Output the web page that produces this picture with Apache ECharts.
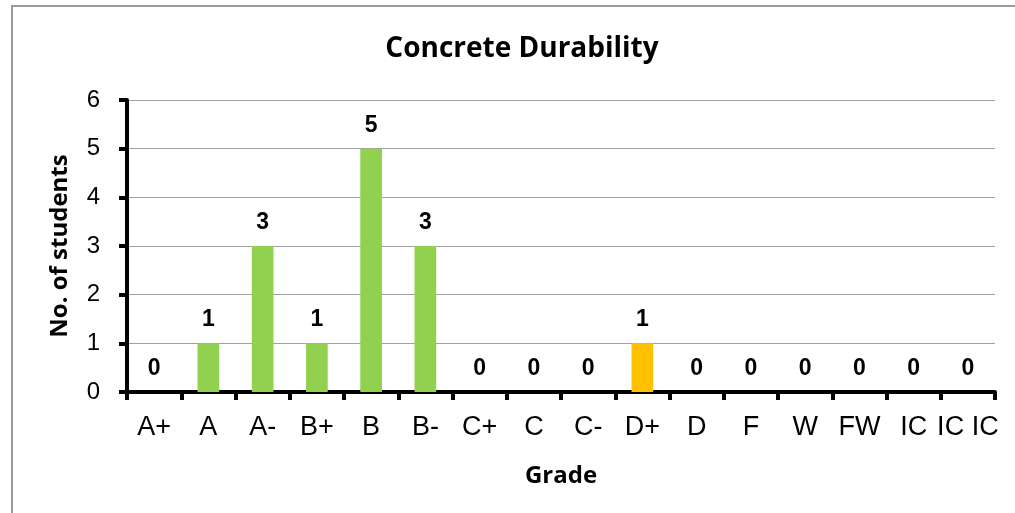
<!DOCTYPE html>
<html>
<head>
<meta charset="utf-8">
<style>
  html, body { margin: 0; padding: 0; background: #fff; }
  #chart { width: 1015px; height: 513px; }
</style>
<script src="https://cdn.jsdelivr.net/npm/echarts@6/dist/echarts.min.js"></script>
</head>
<body>
<div id="chart"></div>
<script>
// grades along the x axis
const grades = ["A+", "A", "A-", "B+", "B", "B-", "C+", "C", "C-", "D+", "D", "F", "W", "FW", "IC", "IC IC"];
// number of students per grade
const students = [0, 1, 3, 1, 5, 3, 0, 0, 0, 1, 0, 0, 0, 0, 0, 0];
const yTicks = [0, 1, 2, 3, 4, 5, 6];
const highlightGrade = "D+";

let chart = echarts.init(document.getElementById("chart"));
let option = {
  animation: false,
  backgroundColor: "#fff",
  graphic: [
    {
      type: "rect",
      shape: { x: 12, y: 6, width: 1100, height: 600 },
      style: { fill: "none", stroke: "#9a9a9a", lineWidth: 2 },
      silent: true,
    },
  ],
  title: {
    text: "Concrete Durability",
    left: 517,
    top: 30,
    textAlign: "center",
    textStyle: { fontFamily: "Open Sans", fontSize: 28, fontWeight: "bold", color: "#000" },
  },
  grid: { left: 127, right: 20, top: 100, bottom: 121 },
  xAxis: {
    type: "category",
    data: grades,
    name: "Grade",
    nameLocation: "middle",
    nameGap: 72,
    nameTextStyle: { fontFamily: "Open Sans", fontSize: 24, fontWeight: "bold", color: "#000" },
    axisLine: { lineStyle: { color: "#000", width: 4 } },
    axisTick: { show: true, length: 8, lineStyle: { color: "#000", width: 4 } },
    axisLabel: { fontFamily: "Liberation Sans", fontSize: 27, color: "#000", margin: 22, interval: 0 },
  },
  yAxis: {
    type: "value",
    min: yTicks[0],
    max: yTicks[yTicks.length - 1],
    interval: 1,
    name: "No. of students",
    nameLocation: "middle",
    nameGap: 55,
    nameTextStyle: { fontFamily: "Open Sans", fontSize: 24, fontWeight: "bold", color: "#000" },
    axisLine: { show: true, lineStyle: { color: "#000", width: 4 } },
    axisTick: { show: true, length: 8, lineStyle: { color: "#000", width: 4 } },
    axisLabel: { fontFamily: "Liberation Sans", fontSize: 24, color: "#000", margin: 27 },
    splitLine: { lineStyle: { color: "#a0a0a0", width: 1 } },
  },
  series: [
    {
      type: "bar",
      data: students,
      barWidth: "40%",
      itemStyle: {
        color: (p) => (grades[p.dataIndex] === highlightGrade ? "#FFC000" : "#92D050"),
      },
      label: {
        show: true,
        position: "top",
        distance: 12,
        fontFamily: "Liberation Sans",
        fontSize: 23,
        fontWeight: "bold",
        color: "#000",
      },
    },
  ],
};
option && chart.setOption(option);
</script>
</body>
</html>
